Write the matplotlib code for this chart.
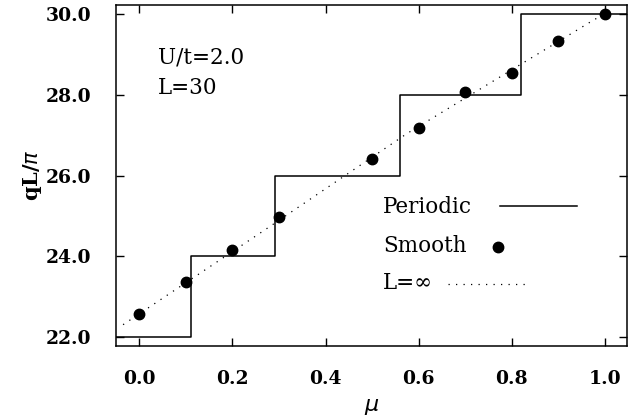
import matplotlib
matplotlib.use("Agg")
import matplotlib.pyplot as plt

# data
# periodic boundary conditions: step function (edges and levels)
periodic_mu = [-0.05, 0.11, 0.11, 0.291, 0.291, 0.559, 0.559, 0.82, 0.82, 1.05]
periodic_q = [22.0, 22.0, 24.0, 24.0, 26.0, 26.0, 28.0, 28.0, 30.0, 30.0]

# smooth boundary conditions
smooth_mu = [0.0, 0.1, 0.2, 0.3, 0.5, 0.6, 0.7, 0.8, 0.9, 1.0]
smooth_q = [22.57, 23.37, 24.16, 24.98, 26.41, 27.18, 28.08, 28.53, 29.34, 30.0]

# thermodynamic limit
inf_mu = [-0.035, 0.265, 0.575, 0.976, 1.0]
inf_q = [22.31, 24.62, 27.04, 29.85, 30.0]

xticks = [0.0, 0.2, 0.4, 0.6, 0.8, 1.0]
yticks = [22.0, 24.0, 26.0, 28.0, 30.0]

SERIF = "DejaVu Serif"
TXT = 15.5

fig = plt.figure(figsize=(6.38, 4.19), dpi=100)
ax = fig.add_axes([0.182, 0.174, 0.801, 0.814])

ax.plot(periodic_mu, periodic_q, color="black", lw=1.1)
ax.plot(inf_mu, inf_q, color="black", lw=0.9, linestyle=(0, (1, 5)))
ax.plot(smooth_mu, smooth_q, "o", color="black", markersize=7.5)

ax.set_xlim(-0.05, 1.048)
ax.set_ylim(21.78, 30.22)
ax.set_xticks(xticks)
ax.set_yticks(yticks)
ax.set_xticklabels([f"{v:.1f}" for v in xticks], fontfamily=SERIF, fontweight="bold", fontsize=13.5)
ax.set_yticklabels([f"{v:.1f}" for v in yticks], fontfamily=SERIF, fontweight="bold", fontsize=13.5)
ax.tick_params(direction="in", top=True, right=True, length=6, width=1)
ax.tick_params(axis="x", pad=17)
ax.tick_params(axis="y", pad=18)
for s in ax.spines.values():
    s.set_linewidth(1.1)

ax.set_xlabel(r"$\mu$", fontsize=16, labelpad=7)
ax.set_ylabel(r"qL/$\pi$", fontfamily=SERIF, fontweight="bold", fontsize=15, labelpad=1)

# annotations
ax.text(0.082, 0.845, "U/t=2.0", transform=ax.transAxes, fontfamily=SERIF,
        fontsize=TXT, va="center", ha="left")
ax.text(0.082, 0.757, "L=30", transform=ax.transAxes, fontfamily=SERIF,
        fontsize=TXT, va="center", ha="left")

# hand-placed legend
ax.text(0.522, 0.408, "Periodic", transform=ax.transAxes, fontfamily=SERIF,
        fontsize=TXT, va="center", ha="left")
ax.plot([0.751, 0.902], [0.411, 0.411], transform=ax.transAxes, color="black", lw=1.1)
ax.text(0.522, 0.293, "Smooth", transform=ax.transAxes, fontfamily=SERIF,
        fontsize=TXT, va="center", ha="left")
ax.plot([0.748], [0.291], "o", transform=ax.transAxes, color="black", markersize=7.5)
ax.text(0.522, 0.185, "L=\u221e", transform=ax.transAxes, fontfamily=SERIF,
        fontsize=TXT, va="center", ha="left")
ax.plot([0.650, 0.804], [0.182, 0.182], transform=ax.transAxes, color="black",
        lw=0.9, linestyle=(0, (1, 5)))

fig.savefig("out.png", dpi=100, facecolor="white")
